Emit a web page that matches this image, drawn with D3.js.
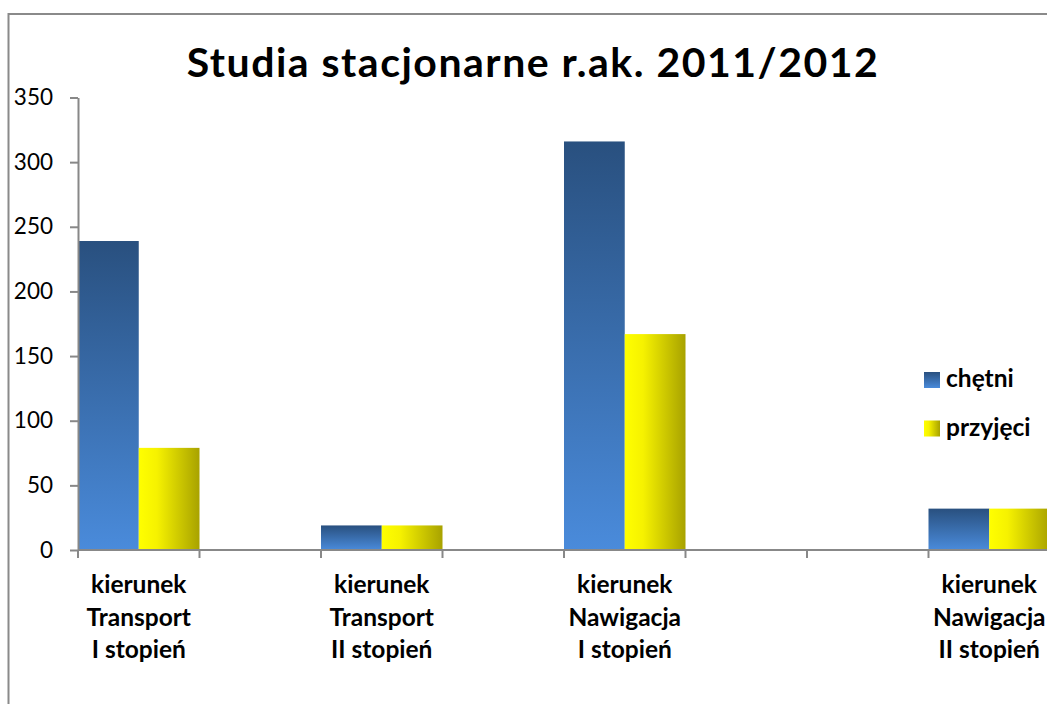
<!DOCTYPE html>
<html>
<head>
<meta charset="utf-8">
<script src="https://cdn.jsdelivr.net/npm/d3@7"></script>
<style>
	html, body { margin: 0; padding: 0; background: #fff; overflow: hidden; }
	svg { display: block; font-family: Lato, "Open Sans", sans-serif; }
</style>
</head>
<body>
<svg id="chart"></svg>
<script>
// data
const chartTitle = "Studia stacjonarne r.ak. 2011/2012";
const categories = [
	["kierunek", "Transport", "I stopień"],
	[],
	["kierunek", "Transport", "II stopień"],
	[],
	["kierunek", "Nawigacja", "I stopień"],
	[],
	[],
	["kierunek", "Nawigacja", "II stopień"]
];
const seriesNames = ["chętni", "przyjęci"];
const chetni = [239, null, 19, null, 316, null, null, 32];
const przyjeci = [79, null, 19, null, 167, null, null, 32];
const yTicks = [0, 50, 100, 150, 200, 250, 300, 350];

var W = 1047, H = 704;

var svg = d3.select("#chart").attr("width", W).attr("height", H);

// gradients
var defs = svg.append("defs");
var gBlue = defs.append("linearGradient").attr("id", "gBlue")
	.attr("x1", 0).attr("y1", 0).attr("x2", 0).attr("y2", 1);
gBlue.append("stop").attr("offset", 0).attr("stop-color", "#29507f");
gBlue.append("stop").attr("offset", 1).attr("stop-color", "#4a8bdb");

var gYellow = defs.append("linearGradient").attr("id", "gYellow")
	.attr("x1", 0).attr("y1", 0).attr("x2", 1).attr("y2", 0);
gYellow.append("stop").attr("offset", 0).attr("stop-color", "#ffff00");
gYellow.append("stop").attr("offset", 0.3).attr("stop-color", "#f6f200");
gYellow.append("stop").attr("offset", 1).attr("stop-color", "#a8a200");

var fills = ["url(#gBlue)", "url(#gYellow)"];

// outer frame
svg.append("rect")
	.attr("x", 8.5).attr("y", 14)
	.attr("width", 1100).attr("height", 800)
	.attr("fill", "none")
	.attr("stroke", "#8a8a8a")
	.attr("stroke-width", 2);

// title
svg.append("text")
	.attr("x", 533).attr("y", 77)
	.attr("text-anchor", "middle")
	.attr("font-weight", "bold")
	.attr("font-size", 41)
	.attr("letter-spacing", 1.5)
	.attr("fill", "#000")
	.text(chartTitle);

// scales
var x = d3.scaleBand()
	.domain(d3.range(categories.length))
	.range([78, 1050])
	.padding(0);
var xSub = d3.scaleBand()
	.domain(d3.range(seriesNames.length))
	.range([0, x.bandwidth()])
	.padding(0);
var y = d3.scaleLinear().domain([0, 350]).range([550, 97.5]);

// bars
var rows = categories.map((c, i) => ({ i: i, vals: [chetni[i], przyjeci[i]] }));
var groups = svg.selectAll(".cat").data(rows).enter().append("g")
	.classed("cat", true)
	.attr("transform", d => "translate(" + x(d.i) + ",0)");

groups.selectAll("rect")
	.data(d => d.vals.map((v, s) => ({ v: v, s: s })).filter(o => o.v != null))
	.enter().append("rect")
	.attr("x", d => xSub(d.s))
	.attr("width", xSub.bandwidth())
	.attr("y", d => y(d.v))
	.attr("height", d => y(0) - y(d.v))
	.attr("fill", d => fills[d.s]);

// y axis
var axisColor = "#888";
var yAxis = svg.append("g").attr("transform", "translate(78,0)")
	.call(d3.axisLeft(y).tickValues(yTicks).tickSize(8).tickPadding(17).tickSizeOuter(0));
yAxis.select(".domain").attr("stroke", axisColor).attr("stroke-width", 2);
yAxis.selectAll(".tick line").attr("stroke", axisColor).attr("stroke-width", 2);
yAxis.selectAll(".tick text")
	.attr("font-size", 22.5)
	.attr("fill", "#000")
	.attr("font-family", "Lato, sans-serif");

// x axis: line and ticks between categories
var xAxis = svg.append("g");
xAxis.append("line")
	.attr("x1", 78).attr("x2", 1050)
	.attr("y1", y(0)).attr("y2", y(0))
	.attr("stroke", axisColor).attr("stroke-width", 2);
var bounds = d3.range(categories.length).map(i => x(i)).concat([x.range()[1]]);
xAxis.selectAll(".xtick").data(bounds).enter().append("line")
	.attr("x1", d => d).attr("x2", d => d)
	.attr("y1", y(0)).attr("y2", y(0) + 8)
	.attr("stroke", axisColor).attr("stroke-width", 2);

// category labels
var labels = svg.selectAll(".clabel").data(rows).enter().append("text")
	.classed("clabel", true)
	.attr("text-anchor", "middle")
	.attr("font-weight", "bold")
	.attr("font-size", 24.5)
	.attr("fill", "#000");
labels.selectAll("tspan")
	.data(d => categories[d.i].map(t => ({ t: t, cx: x(d.i) + x.bandwidth() / 2 })))
	.enter().append("tspan")
	.attr("x", d => d.cx)
	.attr("y", (d, k) => 593 + k * 32.5)
	.text(d => d.t);

// legend
var legend = svg.append("g").attr("transform", "translate(924,372)");
seriesNames.forEach((name, s) => {
	let g = legend.append("g").attr("transform", "translate(0," + (s * 48.5) + ")");
	g.append("rect").attr("width", 16).attr("height", 16).attr("fill", fills[s]);
	g.append("text")
		.attr("x", 22).attr("y", 15)
		.attr("font-weight", "bold")
		.attr("font-size", 24.5)
		.attr("fill", "#000")
		.text(name);
});
</script>
</body>
</html>
